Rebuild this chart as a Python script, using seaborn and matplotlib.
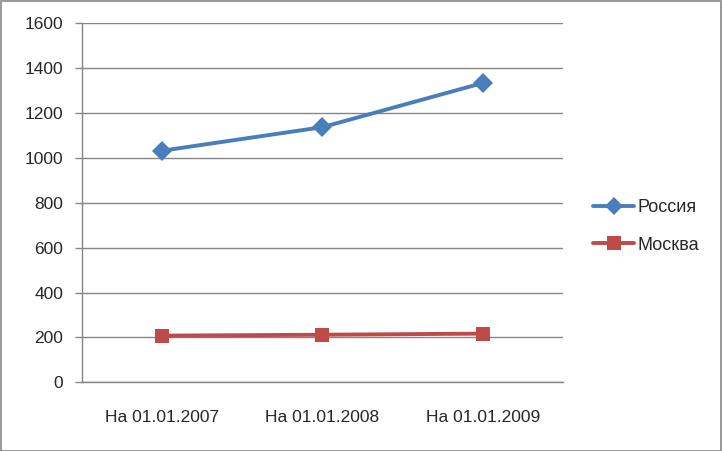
import numpy as np
import pandas as pd
import matplotlib
matplotlib.use("Agg")
import matplotlib.pyplot as plt
import seaborn as sns
from matplotlib.patches import Rectangle
from matplotlib.lines import Line2D

# data
kategorie = ["На 01.01.2007", "На 01.01.2008", "На 01.01.2009"]
rossiya = [1032, 1137, 1334]
moskva = [208, 212, 217]
y_ticks = [0, 200, 400, 600, 800, 1000, 1200, 1400, 1600]

sns.set_theme(style="white")
plt.rcParams['font.family'] = ['Liberation Sans Narrow', 'Liberation Sans', 'DejaVu Sans']

df = pd.DataFrame({
    "x": list(range(len(kategorie))) * 2,
    "value": rossiya + moskva,
    "serie": ["Россия"] * 3 + ["Москва"] * 3,
})

barvy = {"Россия": "#4A7EBB", "Москва": "#BE4B48"}
znacky = {"Россия": "D", "Москва": "s"}
velikost = {"Россия": 9, "Москва": 10}

fig = plt.figure(figsize=(7.22, 4.51), dpi=100)
ax = fig.add_axes([0.1129, 0.1523, 0.6669, 0.796])

sns.lineplot(data=df, x="x", y="value", hue="serie", style="serie",
             palette=barvy, markers=znacky, dashes=False, linewidth=2.8,
             markersize=10, markeredgewidth=0, ax=ax, legend=False)

ax.set_xlim(-0.5, 2.5)
ax.set_ylim(0, 1600)
ax.set_yticks(y_ticks)
ax.set_yticklabels([str(v) for v in y_ticks], fontsize=12.5)
ax.set_xticks(range(len(kategorie)))
ax.set_xticklabels(kategorie, fontsize=12.5)
ax.set_xticks([-0.5, 0.5, 1.5, 2.5], minor=True)
ax.tick_params(axis="x", which="major", length=0, pad=20)
ax.tick_params(axis="x", which="minor", length=5, width=1, color="#868686", direction="out")
ax.tick_params(axis="y", length=5, width=1, color="#868686", direction="out", left=True, pad=8)
ax.set_xlabel("")
ax.set_ylabel("")
ax.grid(axis="y", color="#868686", linewidth=1)
ax.set_axisbelow(True)
for s in ["top", "right"]:
    ax.spines[s].set_visible(False)
for s in ["left", "bottom"]:
    ax.spines[s].set_color("#868686")
    ax.spines[s].set_linewidth(1)

# legenda
handles = [Line2D([], [], color=barvy[k], marker=znacky[k], linewidth=2.8,
                  markersize=velikost[k], markeredgewidth=0) for k in ["Россия", "Москва"]]
fig.legend(handles, ["Россия", "Москва"], loc="center left",
           bbox_to_anchor=(0.809, 0.498), frameon=False, fontsize=13, borderpad=0,
           handlelength=2.27, handletextpad=0.18, labelspacing=1.15)

fig.patches.append(Rectangle((0.001, 0.001), 0.997, 0.997, transform=fig.transFigure,
                             fill=False, edgecolor="#868686", linewidth=1.2))

fig.savefig("out.png", dpi=100)
